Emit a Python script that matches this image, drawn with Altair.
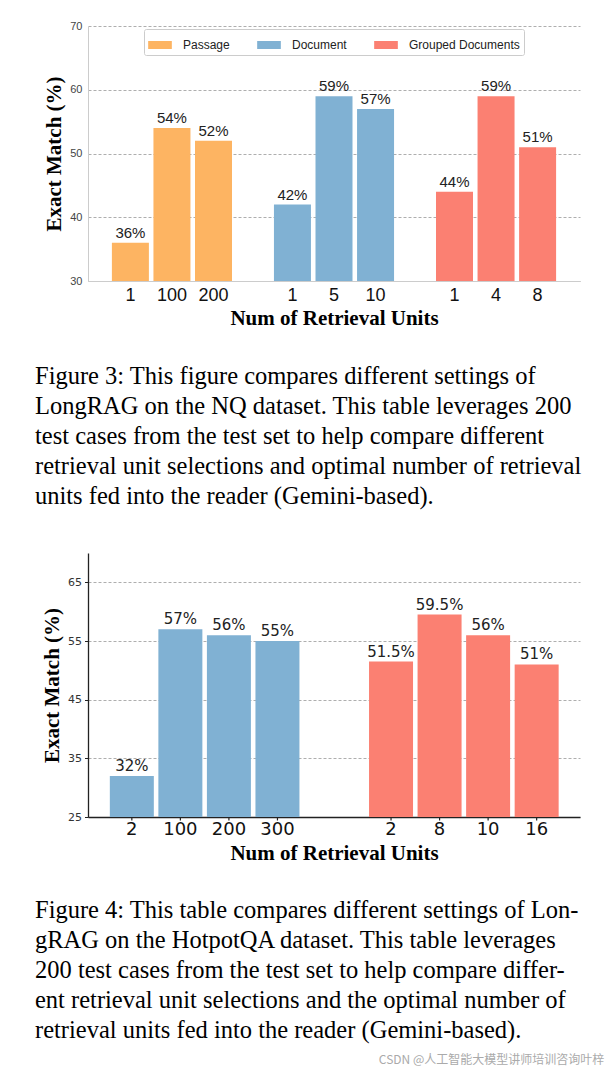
import altair as alt
import pandas as pd

# ---------------- data ----------------
groups1 = ["Passage", "Document", "Grouped Documents"]
units1 = [["1", "100", "200"], ["1", "5", "10"], ["1", "4", "8"]]
values1 = [[36, 54, 52], [42, 59, 57], [44, 59, 51]]
colors1 = ["#fdb462", "#80b1d3", "#fb8072"]

groups2 = ["Document", "Grouped Documents"]
units2 = [["2", "100", "200", "300"], ["2", "8", "10", "16"]]
values2 = [[32, 57, 56, 55], [51.5, 59.5, 56, 51]]
colors2 = ["#80b1d3", "#fb8072"]

yticks1 = [30, 40, 50, 60, 70]
yticks2 = [25, 35, 45, 55, 65]

caption1 = [
    "Figure 3:  This figure compares different settings of",
    "LongRAG on the NQ dataset. This table leverages 200",
    "test cases from the test set to help compare different",
    "retrieval unit selections and optimal number of retrieval",
    "units fed into the reader (Gemini-based).",
]
caption2 = [
    "Figure 4: This table compares different settings of Lon-",
    "gRAG on the HotpotQA dataset.  This table leverages",
    "200 test cases from the test set to help compare differ-",
    "ent retrieval unit selections and the optimal number of",
    "retrieval units fed into the reader (Gemini-based).",
]
watermark = "CSDN @人工智能大模型讲师培训咨询叶梓"


def make_df(groups, units, values, gap):
    rows = []
    for gi, (g, us, vs) in enumerate(zip(groups, units, values)):
        for i, (u, v) in enumerate(zip(us, vs)):
            rows.append({"group": g, "slot": gi * (len(us) + gap) + i,
                         "unit": u, "value": v, "label": f"{v:g}%"})
    return pd.DataFrame(rows)


df1 = make_df(groups1, units1, values1, 0.9)
df2 = make_df(groups2, units2, values2, 1.34)

SERIF = "Liberation Serif"
W = 492


def make_chart(df, groups, colors, ydom, yticks, H, font, spine, xdom,
               barw, legx, legy, caption, cap_offset, dark):
    base = alt.Chart(df).encode(
        x=alt.X("slot:Q",
                scale=alt.Scale(domain=xdom, nice=False, zero=False),
                axis=alt.Axis(labels=False, ticks=False, domain=True,
                              domainColor=spine, domainWidth=1.3 if dark else 1,
                              grid=False, title="Num of Retrieval Units",
                              titleFont=SERIF, titleFontSize=21,
                              titleFontWeight="bold", titleColor="black",
                              titlePadding=26 if not dark else 25)),
    )
    bars = base.mark_bar(clip=True, size=barw).encode(
        y=alt.Y("value:Q",
                scale=alt.Scale(domain=ydom, nice=False, zero=False),
                axis=alt.Axis(values=yticks, grid=True, gridDash=[3, 2],
                              gridColor="#999", gridWidth=0.8,
                              domain=True, domainColor=spine,
                              domainWidth=1.3 if dark else 1,
                              ticks=dark, tickSize=3.5, tickColor=spine,
                              labelFont=font, labelFontSize=11,
                              labelColor="#333" if dark else "#444",
                              labelPadding=3 if dark else 6,
                              title="Exact Match (%)", titleFont=SERIF,
                              titleFontSize=21, titleFontWeight="bold",
                              titleColor="black", titlePadding=5)),
        color=alt.Color("group:N",
                        scale=alt.Scale(domain=groups, range=colors),
                        legend=alt.Legend(orient="none", legendX=legx,
                                          legendY=legy,
                                          direction="horizontal", title=None,
                                          fillColor="white",
                                          strokeColor="#cccccc", padding=4,
                                          cornerRadius=2,
                                          symbolType="M-1,-0.34H1V0.34H-1Z",
                                          symbolSize=560, symbolStrokeWidth=0,
                                          symbolOpacity=1,
                                          labelFont=font, labelFontSize=12,
                                          labelColor="#222", labelOffset=11,
                                          columnPadding=27)),
    )
    vals = base.mark_text(font=font, fontSize=15, color="#222",
                          baseline="alphabetic", dy=-5).encode(
        y="value:Q", text="label:N")
    unit_lbl = base.mark_text(font=font, fontSize=18, color="#111",
                              baseline="middle").encode(
        y=alt.value(H + 15 if not dark else H + 13), text="unit:N")
    layers = [bars, vals, unit_lbl]
    if dark:
        ticks = base.mark_rule(color=spine, strokeWidth=1.2).encode(
            y=alt.value(H), y2=alt.value(H + 3.5))
        layers.append(ticks)
    return alt.layer(*layers).properties(
        width=W, height=H,
        title=alt.TitleParams(text=caption, orient="bottom", anchor="start",
                              frame="group", dx=-53, offset=cap_offset,
                              font=SERIF, fontSize=24.5, fontWeight="normal",
                              lineHeight=30, color="black"),
    )


c1 = make_chart(df1, groups1, colors1, [30, 70], yticks1, 255,
                "Liberation Sans", "#cccccc", [-0.9, 10.7], 37,
                56, 3, caption1, 37, False)
c2 = make_chart(df2, groups2, colors2, [25, 70], yticks2, 264,
                "DejaVu Sans", "#222222", [-0.8, 9.13], 44,
                100, 2, caption2, 36, True)

chart = alt.vconcat(c1, c2, spacing=44).properties(
    padding={"left": 27, "top": 12, "right": 0, "bottom": 0},
    title=alt.TitleParams(text=watermark, orient="bottom", anchor="end",
                          frame="bounds", dx=23, offset=12,
                          font="Noto Sans CJK SC", fontSize=12,
                          fontWeight="normal", color="#aaaaaa"),
).configure_view(strokeWidth=0)

chart.save("out.html", embed_options={"renderer": "svg", "actions": False})
